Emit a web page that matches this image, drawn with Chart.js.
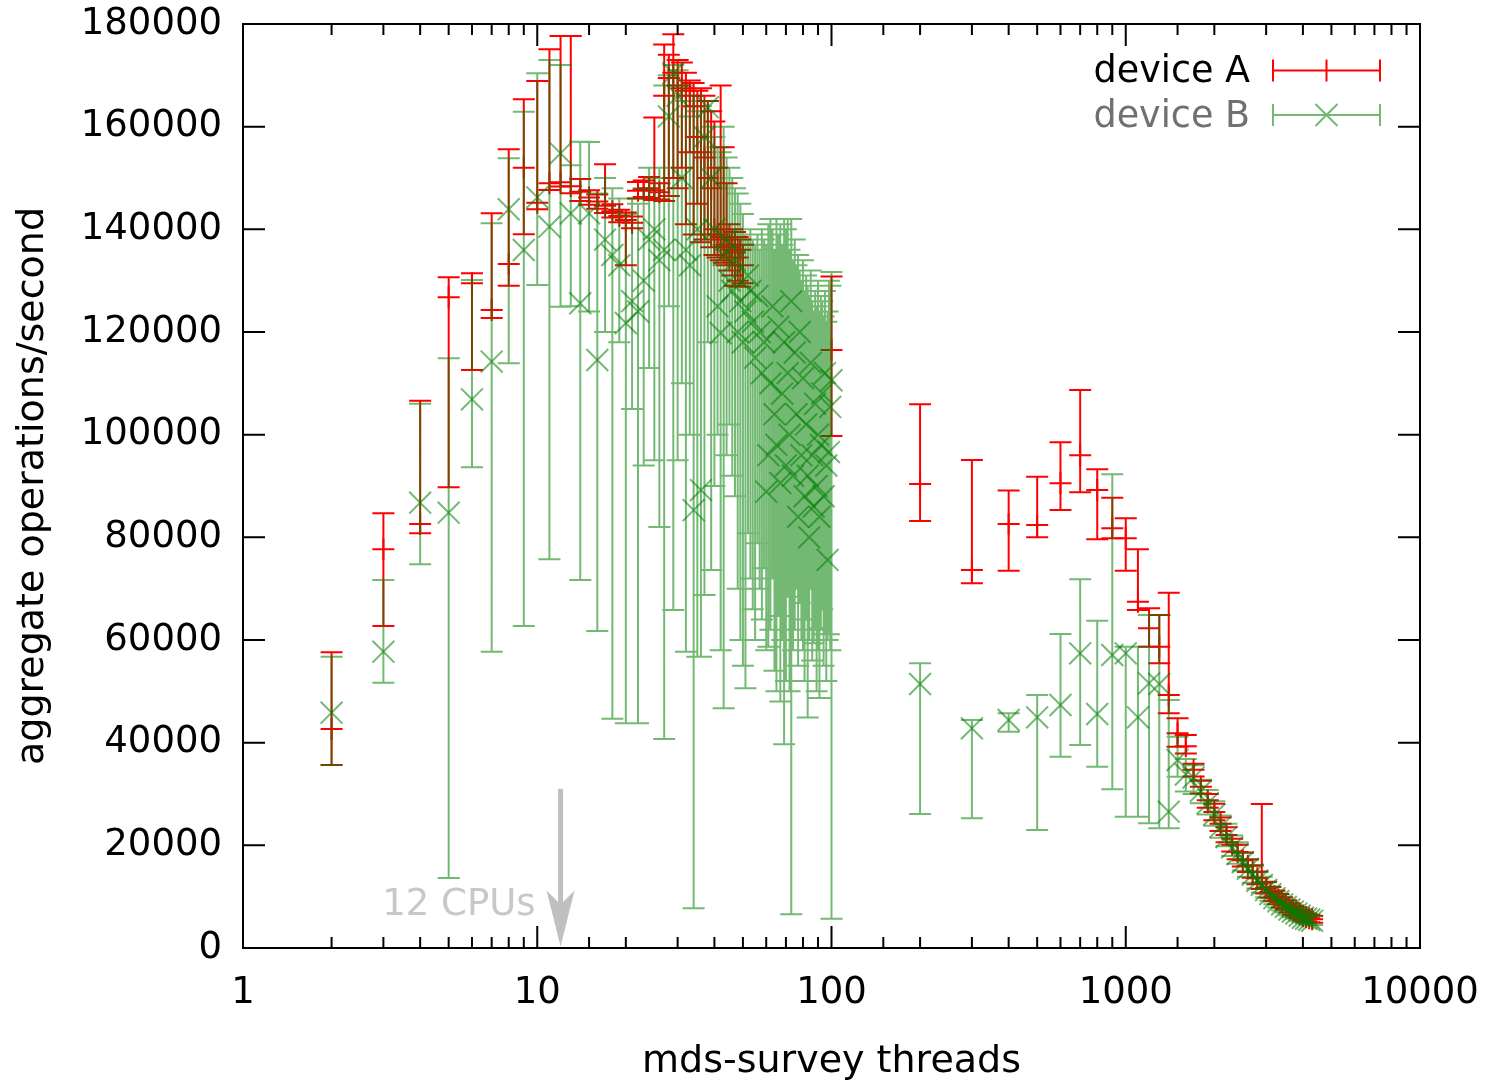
<!DOCTYPE html>
<html>
<head>
<meta charset="utf-8">
<title>mds-survey threads</title>
<script src="https://cdn.jsdelivr.net/npm/chart.js@4.4.1/dist/chart.umd.min.js"></script>
<style>
  html, body { margin: 0; padding: 0; background: #fff; }
  canvas { display: block; }
</style>
</head>
<body>
<canvas id="myChart" width="1489" height="1080"></canvas>
<script>
// device A: thread count, mean, min, max
var threads_a = [2, 3, 4, 5, 6, 7, 8, 9, 10, 11,
  12, 13, 14, 15, 16, 17, 18, 19, 20, 21,
  22, 23, 24, 25, 26, 27, 28, 29, 30, 31,
  32, 33, 34, 35, 36, 37, 38, 39, 40, 41,
  42, 43, 44, 45, 46, 47, 48, 49, 50,
  100,
  200, 300, 400, 500, 600, 700, 800, 900, 1000, 1100, 1200, 1300, 1400, 1500,
  1600, 1700, 1800, 1900, 2000, 2100, 2200, 2300, 2400, 2500, 2600, 2700, 2800, 2900,
  3000, 3100, 3200, 3300, 3400, 3500, 3600, 3700, 3800, 3900, 4000, 4100, 4200, 4300];
var mean_a = [42660, 77670, 82600, 126760, 129490, 124290, 133260, 152000, 145200, 148960,
  149160, 148400, 147300, 146200, 145400, 144600, 143500, 142600, 141800, 141300,
  147500, 147800, 148000, 147600, 147200, 166000, 169500, 170500, 168000, 167500,
  167000, 166000, 164000, 158000, 155000, 154000, 150000, 148000, 140000, 139000,
  138500, 138000, 137000, 136500, 136000, 135500, 134500, 136000, 133000,
  116500,
  90390, 73640, 82600, 82400, 90530, 95990, 89230, 81760, 79800, 67470, 62280, 58700, 49290, 41830,
  39300, 34700, 31400, 28800, 26500, 24200, 22000, 20100, 18700, 17100, 16000, 14800, 13600, 12700,
  11700, 10900, 10100, 9500, 8900, 8400, 7800, 7400, 7000, 6600, 6200, 6000, 5800, 5600];
var low_a = [35650, 62730, 80780, 89740, 112600, 122730, 129030, 139040, 143900, 147680,
  148320, 147030, 145500, 144800, 144000, 143200, 142300, 141400, 133000, 140200,
  146000, 146300, 146100, 145700, 145800, 145500, 146500, 150000, 148000, 152000,
  141000, 155000, 139000, 145000, 137500, 138000, 139000, 136500, 135000, 134500,
  134000, 133500, 133000, 132000, 131000, 129000, 130000, 128800, 129500,
  99750,
  83190, 71040, 73500, 80010, 85330, 88780, 79620, 79800, 73510, 65850, 58700, 55460, 45720, 39220,
  37900, 33400, 30100, 27300, 24900, 22800, 20600, 18800, 17300, 15900, 14800, 13700, 12400, 11500,
  10600, 9800, 9100, 8500, 7900, 7500, 6900, 6500, 6200, 5800, 5400, 5200, 5000, 4900];
var high_a = [57600, 84680, 106630, 130660, 131440, 143130, 155600, 165340, 168910, 175090,
  177680, 177680, 149800, 147600, 146800, 152700, 144900, 143800, 143300, 142500,
  149200, 149500, 150200, 161800, 149000, 176000, 174000, 178000, 173000, 172500,
  170500, 169000, 168500, 167000, 167500, 166000, 165000, 163000, 161000, 152000,
  168000, 156000, 149000, 141000, 140000, 139500, 138500, 138000, 137000,
  130800,
  105920, 95070, 89100, 91820, 98520, 108710, 93260, 87730, 83710, 77670, 66180, 64870, 69220, 44750,
  41500, 35900, 32600, 30000, 28100, 25400, 23500, 21300, 20100, 18600, 17300, 16100, 14900, 28050,
  12900, 11900, 11200, 10500, 9900, 9300, 8700, 8300, 7900, 7400, 7000, 6700, 6500, 6300];

// device B: thread count, mean, min, max
var threads_b = [2, 3, 4, 5, 6, 7, 8, 9, 10, 11,
  12, 13, 14, 15, 16, 17, 18, 19, 20, 21,
  22, 23, 24, 25, 26, 27, 28, 29, 30, 31,
  32, 33, 34, 35, 36, 37, 38, 39, 40, 41,
  42, 43, 44, 45, 46, 47, 48, 49, 50, 51,
  52, 53, 54, 55, 56, 57, 58, 59, 60, 61,
  62, 63, 64, 65, 66, 67, 68, 69, 70, 71,
  72, 73, 74, 75, 76, 77, 78, 79, 80, 81,
  82, 83, 84, 85, 86, 87, 88, 89, 90, 91,
  92, 93, 94, 95, 96, 97, 98, 99, 100,
  200, 300, 400, 500, 600, 700, 800, 900, 1000, 1100, 1200, 1300, 1400, 1500,
  1600, 1700, 1800, 1900, 2000, 2100, 2200, 2300, 2400, 2500, 2600, 2700, 2800, 2900,
  3000, 3100, 3200, 3300, 3400, 3500, 3600, 3700, 3800, 3900, 4000, 4100, 4200, 4300];
var mean_b = [45840, 57730, 86760, 84800, 106890, 114230, 143910, 135980, 146240, 140520,
  154800, 143100, 125600, 143100, 114550, 138000, 135000, 133000, 121760, 126000,
  124000, 130000, 138000, 140000, 134000, 136000, 162000, 170400, 166000, 150000,
  136000, 133000, 85300, 140000, 89200, 158000, 163800, 150000, 140000, 125000,
  119800, 135000, 138000, 130000, 128000, 134000, 120000, 126000, 118000, 124000,
  131000, 128000, 122000, 115000, 127000, 120000, 112000, 118000, 88900, 96000,
  110000, 125000, 104000, 98000, 121000, 90600, 108000, 118000, 94000, 112000,
  100000, 126000, 92000, 116000, 104000, 84000, 120000, 96000, 111000, 88000,
  102000, 92000, 80000, 114000, 96000, 86000, 106000, 90000, 100000, 84000,
  98000, 108000, 88000, 112000, 94000, 75600, 96600, 105400, 110600,
  51430, 42790, 44420, 44940, 47340, 57410, 45590, 57080, 57410, 44940, 51560, 51430, 26560, 36630,
  33800, 33200, 30600, 28200, 26000, 23600, 21600, 19600, 18300, 16700, 15400, 14300, 13100, 12300,
  11300, 10500, 9700, 9100, 8500, 8000, 7500, 7100, 6700, 6300, 5900, 5700, 5500, 5300];
var low_b = [35650, 51690, 74750, 13640, 93650, 57730, 113900, 62730, 129160, 75720,
  124940, 125000, 71690, 124000, 61750, 120000, 44670, 118000, 43770, 105000,
  43770, 94000, 113000, 95000, 82000, 40700, 125000, 65850, 95000, 110000,
  57730, 100000, 7730, 56750, 56750, 68770, 118000, 73640, 90000, 100000,
  58000, 46700, 96000, 102000, 92000, 88000, 70000, 60000, 55000, 50600,
  80780, 72000, 66000, 60000, 78830, 70000, 64000, 74000, 58000, 58700,
  62000, 72000, 54000, 50000, 64670, 48000, 60000, 39700, 52000, 68440,
  50000, 6560, 58000, 62000, 70000, 55000, 67200, 60000, 58000, 52000,
  64000, 44900, 60000, 70000, 56000, 59360, 62000, 50000, 58000, 48700,
  62300, 66000, 55000, 61100, 52000, 60000, 61100, 58000, 5710,
  26110, 25260, 42150, 22990, 37270, 39550, 35320, 30910, 25580, 25580, 24290, 23310, 23310, 33370,
  30500, 30000, 28200, 26000, 23800, 21500, 19800, 17900, 16400, 15100, 13900, 12700, 11600, 10800,
  9900, 9200, 8500, 7900, 7300, 6900, 6400, 6000, 5700, 5300, 5000, 4800, 4600, 4500];
var high_b = [56750, 71690, 106000, 114880, 130140, 141180, 153840, 162930, 170400, 173000,
  172000, 152500, 157080, 157000, 147000, 150000, 148000, 146000, 143000, 146000,
  145000, 148000, 152000, 150000, 152000, 168000, 170000, 172000, 171000, 168000,
  165000, 162000, 166000, 163000, 164000, 163000, 165000, 160000, 158000, 156000,
  155000, 160000, 154000, 152000, 150000, 148000, 147000, 145000, 143000, 139000,
  138000, 140000, 138000, 137000, 139000, 136000, 140000, 138000, 137000, 141000,
  142000, 140000, 136000, 142000, 139000, 141000, 137000, 142000, 140000, 142000,
  136000, 142000, 134000, 138000, 133000, 135000, 132000, 130000, 134000, 128000,
  131000, 129000, 127000, 132000, 126000, 124000, 128000, 125000, 130000, 124000,
  127000, 126000, 123000, 128000, 122000, 124000, 130000, 129000, 131700,
  55460, 44420, 45720, 49290, 61170, 71820, 63770, 92280, 58700, 58700, 64870, 64870, 48320, 41170,
  36800, 35600, 32800, 30800, 28600, 25800, 24200, 21900, 20600, 18500, 17200, 16000, 14800, 13900,
  12800, 12000, 11000, 10400, 9800, 9200, 8700, 8200, 7800, 7400, 7000, 6700, 6400, 6200];

var x_tick_labels = [1, 10, 100, 1000, 10000];
var y_max = 180000;
var y_step = 20000;
var cpu_count = 12;
var cpu_arrow_top = 31000;

var col_a = 'rgb(255, 0, 0)';
var col_b = 'rgba(0, 128, 0, 0.55)';
var cap = 11;

function make_points (xs, ys) {
  return xs.map(function (x, i) { return {x: x, y: ys[i]}; });
}

function draw_mark (ctx, style, x, y) {
  if (style === 'cross') {
    ctx.moveTo(x - 11, y); ctx.lineTo(x + 11, y);
    ctx.moveTo(x, y - 11); ctx.lineTo(x, y + 11);
  } else {
    ctx.moveTo(x - 11, y - 11); ctx.lineTo(x + 11, y + 11);
    ctx.moveTo(x - 11, y + 11); ctx.lineTo(x + 11, y - 11);
  }
}

// vertical min/max bars drawn under each dataset's own points
var error_bars = {
  id: 'error_bars',
  beforeDatasetDraw: function (chart, args) {
    var ds = chart.data.datasets[args.index];
    var xs = chart.scales.x, ys = chart.scales.y, a = chart.chartArea;
    var ctx = chart.ctx;
    ctx.save();
    ctx.beginPath();
    ctx.rect(a.left, a.top, a.right - a.left, a.bottom - a.top);
    ctx.clip();
    ctx.beginPath();
    ds.err_low.forEach(function (lo, i) {
      var px = xs.getPixelForValue(ds.data[i].x);
      var yl = ys.getPixelForValue(lo);
      var yh = ys.getPixelForValue(ds.err_high[i]);
      ctx.moveTo(px, yl); ctx.lineTo(px, yh);
      ctx.moveTo(px - cap, yl); ctx.lineTo(px + cap, yl);
      ctx.moveTo(px - cap, yh); ctx.lineTo(px + cap, yh);
    });
    ctx.strokeStyle = ds.borderColor;
    ctx.lineWidth = 2;
    ctx.stroke();
    ctx.restore();
  }
};

var frame_and_notes = {
  id: 'frame_and_notes',
  beforeDatasetsDraw: function (chart) {
    var ctx = chart.ctx, xs = chart.scales.x, ys = chart.scales.y;
    var ax = xs.getPixelForValue(cpu_count);
    var ytop = ys.getPixelForValue(cpu_arrow_top);
    var ytip = ys.getPixelForValue(0) - 1.5;
    ctx.save();
    ctx.fillStyle = '#c0c0c0';
    ctx.fillRect(ax - 2.5, ytop, 5, ytip - 42 - ytop);
    ctx.beginPath();
    ctx.moveTo(ax, ytip);
    ctx.lineTo(ax - 14, ytip - 56);
    ctx.lineTo(ax, ytip - 42);
    ctx.lineTo(ax + 14, ytip - 56);
    ctx.closePath();
    ctx.fill();
    ctx.fillStyle = '#c8c8c8';
    ctx.font = '37px "DejaVu Sans"';
    ctx.textAlign = 'right';
    ctx.textBaseline = 'alphabetic';
    ctx.fillText(cpu_count + ' CPUs', ax - 25, ytip - 32);
    ctx.restore();
  },
  afterDraw: function (chart) {
    var ctx = chart.ctx, xs = chart.scales.x, ys = chart.scales.y, a = chart.chartArea;
    ctx.save();
    ctx.strokeStyle = '#000';
    ctx.lineWidth = 2;
    ctx.beginPath();
    ys.ticks.forEach(function (t) {
      var py = ys.getPixelForValue(t.value);
      ctx.moveTo(a.left, py); ctx.lineTo(a.left + 22, py);
      ctx.moveTo(a.right, py); ctx.lineTo(a.right - 22, py);
    });
    xs.ticks.forEach(function (t) {
      var px = xs.getPixelForValue(t.value);
      var len = x_tick_labels.indexOf(t.value) >= 0 ? 22 : 11;
      ctx.moveTo(px, a.bottom); ctx.lineTo(px, a.bottom - len);
      ctx.moveTo(px, a.top); ctx.lineTo(px, a.top + len);
    });
    ctx.stroke();
    ctx.strokeRect(a.left, a.top, a.right - a.left, a.bottom - a.top);

    // key, top right inside the frame
    var rows = [
      {label: 'device A', color: col_a, text: '#000', style: 'cross', y: a.top + 46.5},
      {label: 'device B', color: col_b, text: '#707070', style: 'crossRot', y: a.top + 91}
    ];
    var x0 = a.right - 147, x1 = a.right - 40, xm = (x0 + x1) / 2;
    ctx.font = '36.5px "DejaVu Sans"';
    ctx.textAlign = 'right';
    ctx.textBaseline = 'alphabetic';
    rows.forEach(function (r) {
      ctx.fillStyle = r.text;
      ctx.fillText(r.label, a.right - 170, r.y + 11.5);
      ctx.beginPath();
      ctx.moveTo(x0, r.y); ctx.lineTo(x1, r.y);
      ctx.moveTo(x0, r.y - cap); ctx.lineTo(x0, r.y + cap);
      ctx.moveTo(x1, r.y - cap); ctx.lineTo(x1, r.y + cap);
      draw_mark(ctx, r.style, xm, r.y);
      ctx.strokeStyle = r.color;
      ctx.lineWidth = 2;
      ctx.stroke();
    });
    ctx.restore();
  }
};

Chart.defaults.font.family = '"DejaVu Sans"';
Chart.defaults.font.size = 37;
Chart.defaults.color = '#000';

var ctx = document.getElementById('myChart').getContext('2d');
var chart = new Chart(ctx, {
  type: 'scatter',
  data: {
    datasets: [{
      label: 'device A',
      data: make_points(threads_a, mean_a),
      err_low: low_a,
      err_high: high_a,
      borderColor: col_a,
      backgroundColor: col_a,
      pointStyle: 'cross',
      pointRadius: 11,
      pointBorderWidth: 2,
      order: 2
    }, {
      label: 'device B',
      data: make_points(threads_b, mean_b),
      err_low: low_b,
      err_high: high_b,
      borderColor: col_b,
      backgroundColor: col_b,
      pointStyle: 'crossRot',
      pointRadius: 15.5,
      pointBorderWidth: 2,
      order: 1
    }]
  },
  options: {
    responsive: false,
    animation: false,
    events: [],
    layout: { padding: { left: 0, right: 69, top: 24, bottom: 0 } },
    plugins: { legend: { display: false }, tooltip: { enabled: false } },
    scales: {
      x: {
        type: 'logarithmic',
        min: 1,
        max: 10000,
        grid: { display: false, drawTicks: false },
        border: { display: false },
        ticks: {
          autoSkip: false,
          maxRotation: 0,
          minRotation: 0,
          padding: 23,
          callback: function (v) { return x_tick_labels.indexOf(v) >= 0 ? String(v) : ''; }
        },
        title: {
          display: true,
          text: 'mds-survey threads',
          font: { size: 38, lineHeight: 1 },
          padding: { top: 0, bottom: -1 }
        },
        afterFit: function (scale) {
          scale.height = 132;
          scale.paddingLeft = 0;
          scale.paddingRight = 0;
        }
      },
      y: {
        type: 'linear',
        min: 0,
        max: y_max,
        grid: { display: false, drawTicks: false },
        border: { display: false },
        ticks: {
          stepSize: y_step,
          padding: 21,
          callback: function (v) { return String(v); }
        },
        title: {
          display: true,
          text: 'aggregate operations/second',
          font: { size: 38, lineHeight: 1 },
          padding: { top: 14, bottom: 0 }
        },
        afterFit: function (scale) {
          scale.width = 243;
          scale.paddingTop = 0;
          scale.paddingBottom = 0;
        }
      }
    }
  },
  plugins: [error_bars, frame_and_notes]
});
</script>
</body>
</html>
